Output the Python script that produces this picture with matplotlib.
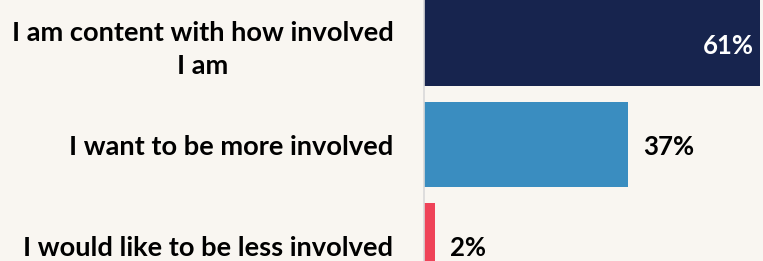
import matplotlib.pyplot as plt

categories = ["I am content with how involved\nI am",
              "I want to be more involved",
              "I would like to be less involved"]
values = [61, 37, 2]
colors = ["#17244E", "#3A8DC0", "#EF4358"]

bg = "#F9F6F1"
plt.rcParams["font.family"] = ["Lato", "DejaVu Sans"]

fig = plt.figure(figsize=(7.63, 2.61), dpi=100, facecolor=bg)
ax = fig.add_axes([424 / 763, 0, 1 - 424 / 763, 1], facecolor=bg)

pos = list(range(len(values)))
ax.barh(pos, values, height=0.84, color=colors)
ax.set_ylim(2.148, -0.424)
ax.set_xlim(0, 61.5)

for i, v in enumerate(values):
    if i == 0:
        ax.text(v - 1.2, i + 0.03, f"{v}%", ha="right", va="center", color="white",
                fontsize=18.5, fontweight="bold")
    else:
        ax.text(v + 2.8, i + 0.02, f"{v}%", ha="left", va="center", color="black",
                fontsize=18.5, fontweight="bold")

ax.set_yticks(pos)
ax.set_yticklabels(categories, fontsize=19.6, fontweight="bold")
plt.setp(ax.get_yticklabels(), multialignment="center", linespacing=1.45)
ax.tick_params(axis="y", length=0, pad=22)
ax.set_xticks([])
for s in ["top", "right", "bottom"]:
    ax.spines[s].set_visible(False)
ax.spines["left"].set_color("#D9D9D9")
ax.spines["left"].set_linewidth(1.2)

fig.savefig("out.png", dpi=100, facecolor=bg)
